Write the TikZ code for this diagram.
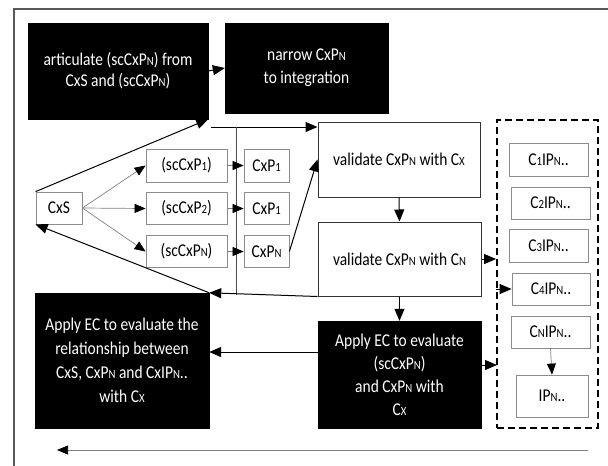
\documentclass[tikz,border=0pt]{standalone}
\usepackage{fontspec}
\setmainfont{Carlito}[FakeStretch=0.86]
\usetikzlibrary{arrows.meta}
\newcommand{\sbs}[1]{{\fontsize{12.5}{12.5}\selectfont #1}}
\begin{document}
\begin{tikzpicture}[x=1pt,y=-1pt,
  base/.style={font=\fontsize{18}{21}\selectfont, inner sep=0pt, align=center},
  blk/.style={base, fill=black, text=white, draw=black},
  wbox/.style={base, draw=black!45, line width=0.8pt, fill=white},
  vbox/.style={base, draw=black!80, line width=1pt, fill=white},
  arr/.style={draw=black, line width=1pt, -{Triangle[length=12pt,width=10pt]}},
  tarr/.style={draw=black!50, line width=0.7pt, -{Triangle[length=11pt,width=9pt,color=black]}},
  plain/.style={draw=black!70, line width=0.8pt}
]
\useasboundingbox (0,0) rectangle (608,466);
\draw[draw=black!65, line width=1.3pt] (14,466) -- (14,9) -- (608,9);

% top black boxes
\node[blk, minimum width=180pt, minimum height=96pt] (art) at (118,71) {articulate (scCxP\sbs{N}) from\\CxS and (scCxP\sbs{N})};
\node[blk, minimum width=163pt, minimum height=90pt, font=\fontsize{18}{23}\selectfont] (nar) at (306.5,68) {narrow CxP\sbs{N}\\to integration};

% left graph
\node[wbox, minimum width=46pt, minimum height=32pt] (cxs) at (59,208) {CxS};
\node[wbox, minimum width=81pt, minimum height=33pt] (sc1) at (186.5,165.5) {(scCxP\sbs{1})};
\node[wbox, minimum width=81pt, minimum height=32pt] (sc2) at (186.5,208.5) {(scCxP\sbs{2})};
\node[wbox, minimum width=81pt, minimum height=32pt] (scn) at (186.5,251.5) {(scCxP\sbs{N})};
\node[wbox, minimum width=45pt, minimum height=33pt] (cp1) at (266.5,165.5) {CxP\sbs{1}};
\node[wbox, minimum width=45pt, minimum height=32pt] (cp2) at (266.5,208.5) {CxP\sbs{1}};
\node[wbox, minimum width=45pt, minimum height=32pt] (cpn) at (266.5,251.5) {CxP\sbs{N}};

% validate boxes
\node[vbox, minimum width=162pt, minimum height=75pt] (v1) at (399,159.5) {validate CxP\sbs{N} with C\sbs{X}};
\node[vbox, minimum width=163pt, minimum height=74pt] (v2) at (399.5,259) {validate CxP\sbs{N} with C\sbs{N}};

% apply boxes
\node[blk, minimum width=163pt, minimum height=107pt, font=\fontsize{18}{23}\selectfont] (ae2) at (399.5,374.5) {Apply EC to evaluate\\(scCxP\sbs{N})\\and CxP\sbs{N} with\\C\sbs{X}};
\node[blk, minimum width=174pt, minimum height=135pt, font=\fontsize{18}{24}\selectfont] (ae1) at (122,360.5) {Apply EC to evaluate the\\relationship between\\CxS, CxP\sbs{N} and CxIP\sbs{N}..\\with C\sbs{X}};

% dashed group
\node[draw=black, line width=1.8pt, dash pattern=on 7pt off 4pt, minimum width=101pt, minimum height=308pt, inner sep=0pt] (ipbox) at (547.5,274) {};
\node[wbox, minimum width=79pt, minimum height=33pt] (c1) at (548.5,159.5) {C\sbs{1}IP\sbs{N}..};
\node[wbox, minimum width=79pt, minimum height=32pt] (c2) at (550.5,203) {C\sbs{2}IP\sbs{N}..};
\node[wbox, minimum width=79pt, minimum height=33pt] (c3) at (548.5,245.5) {C\sbs{3}IP\sbs{N}..};
\node[wbox, minimum width=78pt, minimum height=32pt] (c4) at (551,289) {C\sbs{4}IP\sbs{N}..};
\node[wbox, minimum width=79pt, minimum height=32pt] (cn) at (550.5,332) {C\sbs{N}IP\sbs{N}..};
\node[wbox, minimum width=72pt, minimum height=42pt] (ipn) at (552,396) {IP\sbs{N}..};

% helper coordinates
\coordinate (hs) at (211,127);
\coordinate (vt) at (236,127);
\coordinate (vb) at (236,295);
\coordinate (m352) at (260,352);
\coordinate (dl2) at (497,365);
\coordinate (bR) at (588,450);
\coordinate (bL) at (57,450);

% connectors
\draw[arr] (art.east) -- (nar.west);
\draw[arr] (cxs.north west) -- (art.south east);
\draw[arr] (hs) -- (v1.west |- hs);
\draw[plain] (vt) -- (vb);
\draw[tarr] (cxs.east) -- (sc1.west);
\draw[tarr] (cxs.east) -- (sc2.west);
\draw[tarr] (cxs.east) -- (scn.west);
\draw[tarr] (sc1.east) -- (cp1.west);
\draw[tarr] (sc2.east) -- (cp2.west);
\draw[tarr] (scn.east) -- (cpn.west);
\draw[arr] (cpn.east) -- (v1.west);
\draw[arr] (v1.south) -- (v2.north);
\draw[arr] (v2.south) -- (ae2.north);
\draw[arr] (v2.east) -- (ipbox.west |- v2.east);
\draw[arr] (ae2.east |- dl2) -- (dl2);
\draw[arr] (ipbox.west |- c4) -- (c4.west);
\draw[tarr] (cn.south) -- (ipn.north);
\draw[arr] (ae2.west |- m352) -- (ae1.east |- m352);
\draw[arr] (v2.south west) -- (ae1.north east);
\draw[arr] (ae1.north east) -- (cxs.south west);
\draw[tarr] (bR) -- (bL);
\end{tikzpicture}
\end{document}
